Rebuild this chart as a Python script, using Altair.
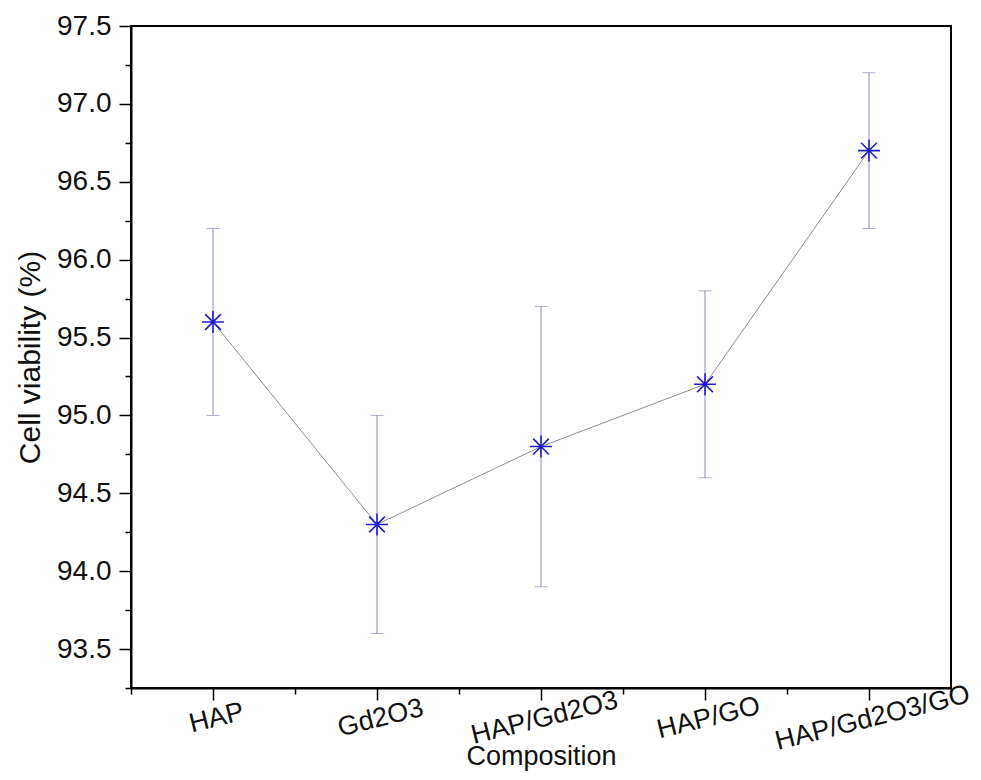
import altair as alt
import pandas as pd

categories = ["HAP", "Gd2O3", "HAP/Gd2O3", "HAP/GO", "HAP/Gd2O3/GO"]
viability = [95.6, 94.3, 94.8, 95.2, 96.7]
err_low = [95.0, 93.6, 93.9, 94.6, 96.2]
err_high = [96.2, 95.0, 95.7, 95.8, 97.2]

df = pd.DataFrame({
    "idx": list(range(1, len(categories) + 1)),
    "cat": categories,
    "v": viability,
    "lo": err_low,
    "hi": err_high,
})

y_ticks = [93.25 + 0.25 * i for i in range(18)]
x_ticks = [0.5 + 0.5 * i for i in range(11)]
cat_arr = "[" + ",".join("'" + c + "'" for c in categories) + "]"

FONT = "Liberation Sans"

xscale = alt.Scale(domain=[0.5, 5.5], nice=False, zero=False)
yscale = alt.Scale(domain=[93.25, 97.5], nice=False, zero=False)

xaxis = alt.Axis(
    title="Composition",
    values=x_ticks,
    tickCount=50,
    labelExpr=f"datum.value % 1 === 0 ? {cat_arr}[datum.value - 1] : ''",
    labelAngle=346,
    labelAlign="center",
    labelBaseline="top",
    labelPadding=5,
    labelFontSize=27,
    labelFont=FONT,
    labelColor="#111",
    labelBound=False,
    labelFlush=False,
    labelLimit=400,
    tickSize={"condition": {"test": "datum.value % 1 === 0", "value": 12}, "value": 6},
    tickColor="black",
    tickWidth=1.5,
    domainColor="black",
    domainWidth=2,
    grid=False,
    titleFontSize=27,
    titleFont=FONT,
    titleFontWeight="normal",
    titleColor="#111",
    titleY=55,
    titleBaseline="top",
    labelOverlap=False,
)

yaxis = alt.Axis(
    title="Cell viability (%)",
    values=y_ticks,
    tickCount=50,
    format=".1f",
    labelExpr="datum.value % 0.5 === 0 ? datum.label : ''",
    labelFontSize=28,
    labelFont=FONT,
    labelColor="#111",
    labelPadding=8,
    tickSize={"condition": {"test": "datum.value % 0.5 === 0", "value": 12}, "value": 6},
    tickColor="black",
    tickWidth=1.5,
    domainColor="black",
    domainWidth=2,
    grid=False,
    titleFontSize=30,
    titleFont=FONT,
    titleFontWeight="normal",
    titleColor="#111",
    titlePadding=11,
    labelOverlap=False,
)

base = alt.Chart(df)

line = base.mark_line(color="#8f8f8f", strokeWidth=1).encode(
    x=alt.X("idx:Q", scale=xscale, axis=xaxis),
    y=alt.Y("v:Q", scale=yscale, axis=yaxis),
)

bars = base.mark_rule(color="#8a8ac8", strokeWidth=1).encode(
    x="idx:Q", y="lo:Q", y2="hi:Q"
)
cap_lo = base.mark_tick(orient="horizontal", color="#8a8ac8", thickness=1, size=13).encode(
    x="idx:Q", y="lo:Q"
)
cap_hi = base.mark_tick(orient="horizontal", color="#8a8ac8", thickness=1, size=13).encode(
    x="idx:Q", y="hi:Q"
)

star = "M0,-1L0,1M-1,0L1,0M-0.72,-0.72L0.72,0.72M-0.72,0.72L0.72,-0.72"
points = base.mark_point(
    shape=star, size=480, filled=False, stroke="#1f1fd8", strokeWidth=1.6, opacity=1
).encode(x="idx:Q", y="v:Q")

chart = alt.layer(line, bars, cap_lo, cap_hi, points).properties(
    width=820,
    height=662,
    autosize=alt.AutoSizeParams(type="none"),
    padding={"left": 123, "top": 18, "right": 22, "bottom": 84},
    background="white",
).configure_view(stroke="black", strokeWidth=2)

chart.save("out.html", embed_options={"renderer": "svg", "actions": False})
